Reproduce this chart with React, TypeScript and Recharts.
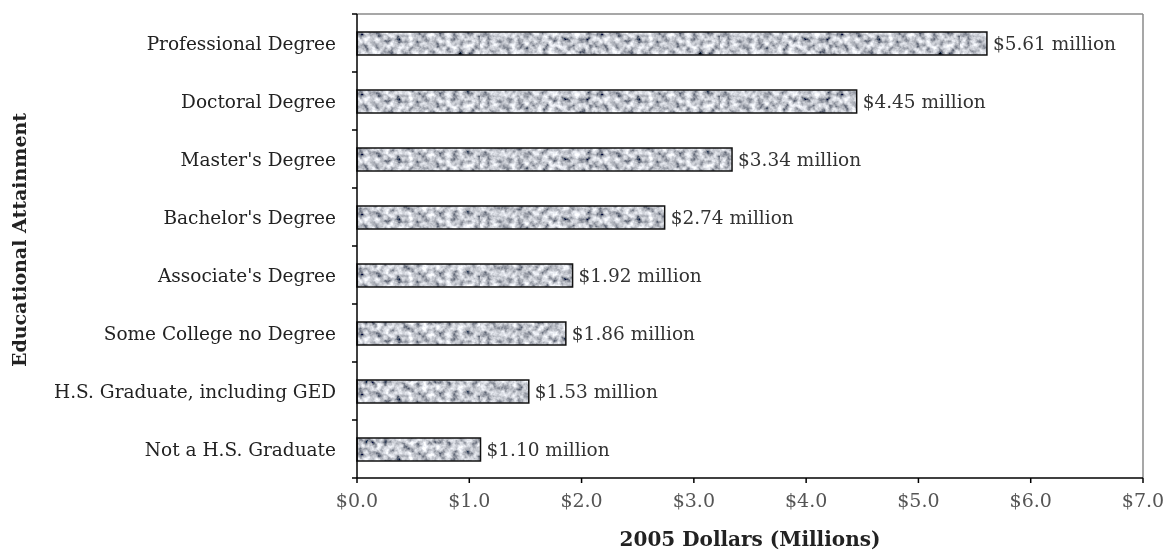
import React from 'react';
import { BarChart, Bar, XAxis, YAxis, LabelList, CartesianGrid } from 'recharts';

// educational attainment, top to bottom as drawn
const categories = [
    'Professional Degree',
    'Doctoral Degree',
    "Master's Degree",
    "Bachelor's Degree",
    "Associate's Degree",
    'Some College no Degree',
    'H.S. Graduate, including GED',
    'Not a H.S. Graduate',
];
const lifetimeEarnings = [5.61, 4.45, 3.34, 2.74, 1.92, 1.86, 1.53, 1.1];
const xTicks = [0, 1, 2, 3, 4, 5, 6, 7];

const chartData = categories.map((name, i) => ({ name, value: lifetimeEarnings[i] }));

const SERIF = "'DejaVu Serif', 'Liberation Serif', serif";
const TICK_SIZE = 5;
const TICK_MARGIN = 16;

const CategoryTick = (props: any) => {
    const { x, y, payload, index } = props;
    const half = payload && payload.offset ? payload.offset : 29;
    const axisX = x + TICK_SIZE + TICK_MARGIN;
    return (
        <g>
            <line x1={axisX - TICK_SIZE} x2={axisX} y1={y - half} y2={y - half} stroke="#000" strokeWidth={1.5} />
            {index === categories.length - 1 && (
                <line x1={axisX - TICK_SIZE} x2={axisX} y1={y + half} y2={y + half} stroke="#000" strokeWidth={1.5} />
            )}
            <text x={x} y={y} textAnchor="end" dominantBaseline="central" fontSize={18.5} fill="#222" fontFamily={SERIF}>
                {payload.value}
            </text>
        </g>
    );
};

const YTitle = (props: any) => {
    const vb = props.viewBox || {};
    const cx = 19;
    const cy = (vb.y || 0) + (vb.height || 0) / 2 - 6;
    return (
        <text
            x={cx}
            y={cy}
            transform={`rotate(-90, ${cx}, ${cy})`}
            textAnchor="middle"
            dominantBaseline="central"
            fontSize={19}
            fontWeight="bold"
            fill="#222"
            fontFamily={SERIF}
        >
            Educational Attainment
        </text>
    );
};

const App: React.FC = () => {
    return (
        <div style={{ position: 'fixed', top: 0, left: 0, width: 1171, height: 554, fontFamily: SERIF }}>
            <BarChart
                width={1171}
                height={554}
                data={chartData}
                layout="vertical"
                margin={{ top: 14, right: 28, bottom: 8, left: 0 }}
            >
                <defs>
                    <filter id="speckle" x="0" y="0" width="100%" height="100%">
                        <feTurbulence type="fractalNoise" baseFrequency="0.16" numOctaves={3} seed={7} result="noise" />
                        <feColorMatrix
                            in="noise"
                            type="matrix"
                            values="1.6 0 0 0 -0.25  1.6 0 0 0 -0.23  1.6 0 0 0 -0.18  0 0 0 0 1"
                        />
                    </filter>
                    <pattern id="granite" width={240} height={60} patternUnits="userSpaceOnUse">
                        <rect width={240} height={60} fill="#b4b8c0" filter="url(#speckle)" />
                    </pattern>
                </defs>
                <CartesianGrid
                    stroke="#8a8a8a"
                    strokeWidth={1.5}
                    horizontalCoordinatesGenerator={({ offset }: any) => [offset.top]}
                    verticalCoordinatesGenerator={({ offset }: any) => [offset.left + offset.width]}
                />
                <XAxis
                    type="number"
                    domain={[0, 7]}
                    ticks={xTicks}
                    tickFormatter={(v) => `$${Number(v).toFixed(1)}`}
                    axisLine={{ stroke: '#000', strokeWidth: 1.5 }}
                    tickLine={{ stroke: '#000', strokeWidth: 1.5 }}
                    tickSize={5}
                    tickMargin={11}
                    tick={{ fontSize: 19, fill: '#555', fontFamily: SERIF }}
                    height={68}
                    label={{
                        value: '2005 Dollars (Millions)',
                        position: 'insideBottom',
                        offset: 0,
                        fontSize: 20,
                        fontWeight: 'bold',
                        fill: '#222',
                        fontFamily: SERIF,
                    }}
                />
                <YAxis
                    type="category"
                    dataKey="name"
                    width={357}
                    tickLine={false}
                    tickSize={TICK_SIZE}
                    tickMargin={TICK_MARGIN}
                    tick={<CategoryTick />}
                    axisLine={{ stroke: '#000', strokeWidth: 1.5 }}
                    interval={0}
                    label={{ content: <YTitle /> }}
                />
                <Bar dataKey="value" fill="url(#granite)" stroke="#111" strokeWidth={1.5} barSize={23} isAnimationActive={false}>
                    <LabelList
                        dataKey="value"
                        position="right"
                        offset={6}
                        formatter={(v: any) => `$${Number(v).toFixed(2)} million`}
                        style={{ fontSize: 18.5, fill: '#333', fontFamily: SERIF }}
                    />
                </Bar>
            </BarChart>
        </div>
    );
};

export default App;
